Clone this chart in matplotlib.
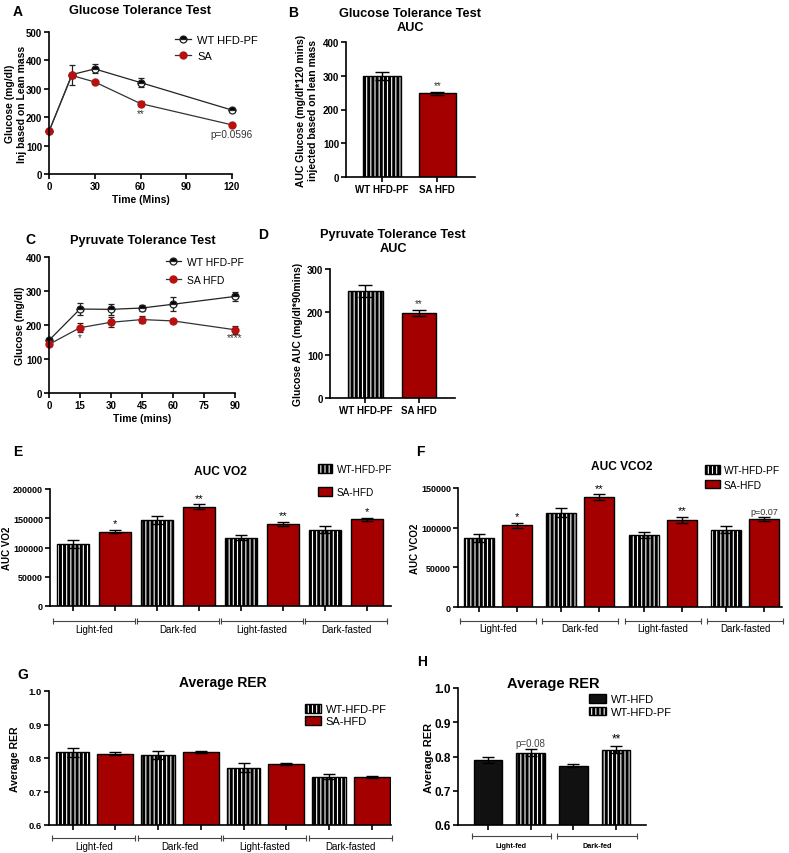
import numpy as np
import matplotlib
matplotlib.use('Agg')
import matplotlib.pyplot as plt
from matplotlib.transforms import blended_transform_factory

# DATA
gtt_time = [0, 15, 30, 60, 120]
gtt_wt = [150, 350, 370, 322, 225]
gtt_wt_err = [5, 35, 16, 15, 7]
gtt_sa = [150, 347, 324, 248, 173]
gtt_sa_err = [5, 10, 7, 8, 4]

gtt_groups = ['WT HFD-PF', 'SA HFD']
gtt_auc = [298, 248]
gtt_auc_err = [12, 5]

ptt_time = [0, 15, 30, 45, 60, 90]
ptt_wt = [155, 247, 246, 250, 261, 284]
ptt_wt_err = [5, 17, 16, 10, 20, 12]
ptt_sa = [143, 192, 208, 216, 212, 186]
ptt_sa_err = [5, 14, 15, 10, 5, 11]

ptt_auc = [249, 198]
ptt_auc_err = [13, 7]

phases = ['Light-fed', 'Dark-fed', 'Light-fasted', 'Dark-fasted']
vo2_wt = [106000, 147000, 117000, 130000]
vo2_wt_err = [6000, 7000, 5000, 6000]
vo2_sa = [127000, 170000, 140000, 148000]
vo2_sa_err = [3000, 4000, 4000, 3000]
vo2_marks = ['*', '**', '**', '*']

vco2_wt = [87000, 119000, 90500, 97500]
vco2_wt_err = [5000, 5500, 3500, 4000]
vco2_sa = [103000, 138500, 110000, 110500]
vco2_sa_err = [3000, 3500, 3500, 2500]
vco2_marks = ['*', '**', '**', 'p=0.07']

rer_wt = [0.817, 0.808, 0.771, 0.744]
rer_wt_err = [0.013, 0.012, 0.013, 0.007]
rer_sa = [0.813, 0.818, 0.782, 0.743]
rer_sa_err = [0.005, 0.004, 0.003, 0.004]

fed_phases = ['Light-fed', 'Dark-fed']
rer_hfd = [0.789, 0.773]
rer_hfd_err = [0.009, 0.005]
rer_pf = [0.811, 0.820]
rer_pf_err = [0.010, 0.010]
rer_pf_marks = ['p=0.08', '**']

# STYLE
W, H = 789, 854
plt.rcParams['font.family'] = ['Liberation Sans', 'DejaVu Sans']
plt.rcParams['hatch.linewidth'] = 2.2
RED = '#A50000'
MRED = '#B81010'
HATCH = '||||'

fig = plt.figure(figsize=(W / 100, H / 100), dpi=100)


def new_ax(x0, y0, x1, y1):
    # pixel box of the reference -> figure fraction
    return fig.add_axes([x0 / W, 1 - y1 / H, (x1 - x0) / W, (y1 - y0) / H])


def prism(ax, fs):
    for s in ['top', 'right']:
        ax.spines[s].set_visible(False)
    for s in ['left', 'bottom']:
        ax.spines[s].set_linewidth(1.2)
    ax.tick_params(direction='out', length=3.5, width=1.2, labelsize=fs, pad=1.5)
    for lbl in ax.get_xticklabels() + ax.get_yticklabels():
        lbl.set_fontweight('bold')


def ylab(ax, text, fs, xfrac):
    ax.set_ylabel(text, fontsize=fs, fontweight='bold')
    ax.yaxis.set_label_coords(xfrac, 0.5)


def striped(bars):
    for p in bars:
        if hasattr(p, 'set_hatch_linewidth'):
            p.set_hatch_linewidth(2.2)
    return bars


def brackets(ax, centers, half, names, y_line, y_text, fs, weight='normal'):
    tr = blended_transform_factory(ax.transData, ax.transAxes)
    for c, n in zip(centers, names):
        ax.plot([c - half, c + half], [y_line, y_line], color='#444', lw=0.8,
                marker='|', ms=5, mew=0.8, transform=tr, clip_on=False)
        ax.text(c, y_text, n, transform=tr, ha='center', va='center',
                fontsize=fs, fontweight=weight)


def mark(ax, x, top, txt, fs, color='black'):
    ax.annotate(txt, (x, top), xytext=(0, 1), textcoords='offset points',
                ha='center', va='bottom', fontsize=fs, color=color)


def ftext(x, y, s, fs, **kw):
    fig.text(x / W, 1 - y / H, s, fontsize=fs, fontweight='bold',
             ha='center', va='center', **kw)


ebar = dict(elinewidth=1, capthick=1, ecolor='black')

# PANEL A
ax = new_ax(49, 33, 232, 175)
ax.errorbar(gtt_time, gtt_wt, yerr=gtt_wt_err, fmt='none', ecolor='#222',
            elinewidth=0.9, capsize=2.5, capthick=0.9, clip_on=False)
ax.errorbar(gtt_time, gtt_sa, yerr=gtt_sa_err, fmt='none', ecolor='#222',
            elinewidth=0.9, capsize=2.5, capthick=0.9, clip_on=False)
ax.plot(gtt_time, gtt_wt, color='#222', lw=0.9, marker='o', ms=5, fillstyle='top',
        mfc='black', markerfacecoloralt='white', mec='#222', mew=0.9,
        label='WT HFD-PF', clip_on=False)
ax.plot(gtt_time, gtt_sa, color='#333', lw=0.9, marker='o', ms=5, mfc=MRED,
        mec=MRED, label='SA', clip_on=False)
ax.set_xlim(0, 120)
ax.set_ylim(0, 500)
ax.set_xticks([0, 30, 60, 90, 120])
ax.set_yticks(np.arange(0, 501, 100))
prism(ax, 7)
ax.set_xlabel('Time (Mins)', fontsize=7.5, fontweight='bold', labelpad=2)
ylab(ax, 'Glucose (mg/dl)\nInj based on Lean mass', 7.5, -0.12)
ax.text(60, 215, '**', ha='center', va='center', fontsize=7, color='#333')
ax.text(120, 141, 'p=0.0596', ha='center', va='center', fontsize=7.2,
        color='#333', clip_on=False)
ax.legend(loc='upper left', bbox_to_anchor=(175 / W, 1 - 36 / H),
          bbox_transform=fig.transFigure, frameon=False, fontsize=8,
          handlelength=1.4, handletextpad=0.6, labelspacing=0.5,
          borderpad=0, borderaxespad=0)
ftext(140, 11, 'Glucose Tolerance Test', 9.2)
ftext(18, 12, 'A', 10)

# PANEL B
ax = new_ax(346, 43, 475, 178)
x = np.arange(len(gtt_groups))
striped(ax.bar(x[0], gtt_auc[0], 0.68, yerr=gtt_auc_err[0], color='white',
               edgecolor='black', hatch=HATCH, lw=1, capsize=5, error_kw=ebar))
ax.bar(x[1], gtt_auc[1], 0.68, yerr=gtt_auc_err[1], color=RED,
       edgecolor='black', lw=1, capsize=5, error_kw=ebar)
mark(ax, x[1], gtt_auc[1] + gtt_auc_err[1], '**', 7, '#333')
ax.set_xlim(-0.65, 1.68)
ax.set_ylim(0, 400)
ax.set_xticks(x, labels=gtt_groups)
ax.set_yticks(np.arange(0, 401, 100))
prism(ax, 7)
ylab(ax, 'AUC Glucose (mg/dl*120 mins)\ninjected based on lean mass', 7.5, -0.217)
ftext(410, 21, 'Glucose Tolerance Test\nAUC', 9.2, linespacing=1.25)
ftext(293, 13, 'B', 10)

# PANEL C
ax = new_ax(49, 258, 235, 394)
ax.errorbar(ptt_time, ptt_wt, yerr=ptt_wt_err, fmt='none', ecolor='#222',
            elinewidth=0.9, capsize=2.5, capthick=0.9, clip_on=False)
ax.errorbar(ptt_time, ptt_sa, yerr=ptt_sa_err, fmt='none', ecolor='#222',
            elinewidth=0.9, capsize=2.5, capthick=0.9, clip_on=False)
ax.plot(ptt_time, ptt_wt, color='#222', lw=0.9, marker='o', ms=5, fillstyle='top',
        mfc='black', markerfacecoloralt='white', mec='#222', mew=0.9,
        label='WT HFD-PF', clip_on=False)
ax.plot(ptt_time, ptt_sa, color='#333', lw=0.9, marker='o', ms=5, mfc=MRED,
        mec=MRED, label='SA HFD', clip_on=False)
ax.set_xlim(0, 90)
ax.set_ylim(0, 400)
ax.set_xticks(np.arange(0, 91, 15))
ax.set_yticks(np.arange(0, 401, 100))
prism(ax, 7)
ax.set_xlabel('Time (mins)', fontsize=7.5, fontweight='bold', labelpad=2)
ylab(ax, 'Glucose (mg/dl)', 7.5, -0.13)
ax.text(15, 165, '*', ha='center', va='center', fontsize=7, color='#333')
ax.text(90, 165, '****', ha='center', va='center', fontsize=7, color='#333',
        clip_on=False)
ax.legend(loc='upper left', bbox_to_anchor=(166 / W, 1 - 258 / H),
          bbox_transform=fig.transFigure, frameon=False, fontsize=7.5,
          handlelength=1.4, handletextpad=0.6, labelspacing=0.75,
          borderpad=0, borderaxespad=0)
ftext(143, 241, 'Pyruvate Tolerance Test', 9.2)
ftext(30, 240, 'C', 10)

# PANEL D
ax = new_ax(330, 270, 455, 399)
striped(ax.bar(x[0], ptt_auc[0], 0.65, yerr=ptt_auc_err[0], color='white',
               edgecolor='black', hatch=HATCH, lw=1, capsize=5, error_kw=ebar))
ax.bar(x[1], ptt_auc[1], 0.65, yerr=ptt_auc_err[1], color=RED,
       edgecolor='black', lw=1, capsize=5, error_kw=ebar)
mark(ax, x[1], ptt_auc[1] + ptt_auc_err[1], '**', 7, '#333')
ax.set_xlim(-0.66, 1.67)
ax.set_ylim(0, 300)
ax.set_xticks(x, labels=gtt_groups)
ax.set_yticks(np.arange(0, 301, 100))
prism(ax, 7)
ylab(ax, 'Glucose AUC (mg/dl*90mins)', 7.5, -0.216)
ftext(393, 242, 'Pyruvate Tolerance Test\nAUC', 9.2, linespacing=1.2)
ftext(263, 235, 'D', 10)

# PANEL E
ax = new_ax(50, 490, 391, 607)
g = np.arange(len(phases))
xw, xs = 2 * g, 2 * g + 1
striped(ax.bar(xw, vo2_wt, 0.78, yerr=vo2_wt_err, color='white', edgecolor='black',
               hatch=HATCH, lw=1, capsize=4.5, error_kw=ebar, label='WT-HFD-PF'))
ax.bar(xs, vo2_sa, 0.78, yerr=vo2_sa_err, color=RED, edgecolor='black',
       lw=1, capsize=4.5, error_kw=ebar, label='SA-HFD')
for xi, v, e, m in zip(xs, vo2_sa, vo2_sa_err, vo2_marks):
    mark(ax, xi, v + e, m, 8)
ax.set_xlim(-0.55, 7.57)
ax.set_ylim(0, 200000)
ax.set_xticks(np.concatenate([xw, xs]), labels=[])
ax.set_yticks(np.arange(0, 200001, 50000))
prism(ax, 6.5)
ylab(ax, 'AUC VO2', 7, -0.11)
brackets(ax, 2 * g + 0.5, 0.97, phases, -0.128, -0.197, 7)
ax.legend(loc='upper left', bbox_to_anchor=(318 / W, 1 - 465 / H),
          bbox_transform=fig.transFigure, frameon=False, fontsize=7.2,
          handlelength=1.4, handleheight=0.9, handletextpad=0.45,
          labelspacing=1.3, borderpad=0, borderaxespad=0)
ftext(220, 472, 'AUC VO2', 8.6)
ftext(18, 452, 'E', 10)

# PANEL F
ax = new_ax(458, 489, 782, 608)
step = 2.17
xw, xs = step * g, step * g + 1
striped(ax.bar(xw, vco2_wt, 0.79, yerr=vco2_wt_err, color='white', edgecolor='black',
               hatch=HATCH, lw=1, capsize=4.5, error_kw=ebar, label='WT-HFD-PF'))
ax.bar(xs, vco2_sa, 0.79, yerr=vco2_sa_err, color=RED, edgecolor='black',
       lw=1, capsize=4.5, error_kw=ebar, label='SA-HFD')
for xi, v, e, m in zip(xs, vco2_sa, vco2_sa_err, vco2_marks):
    if m.startswith('p'):
        mark(ax, xi, v + e, m, 6.5, '#333')
    else:
        mark(ax, xi, v + e, m, 8)
ax.set_xlim(-0.55, step * 3 + 1.47)
ax.set_ylim(0, 150000)
ax.set_xticks(np.concatenate([xw, xs]), labels=[])
ax.set_yticks(np.arange(0, 150001, 50000))
prism(ax, 6.5)
ylab(ax, 'AUC VCO2', 7, -0.118)
brackets(ax, step * g + 0.5, 1.0, phases, -0.118, -0.176, 7)
ax.legend(loc='upper left', bbox_to_anchor=(705 / W, 1 - 466 / H),
          bbox_transform=fig.transFigure, frameon=False, fontsize=7.4,
          handlelength=1.45, handleheight=0.9, handletextpad=0.35,
          labelspacing=0.45, borderpad=0, borderaxespad=0)
ftext(622, 467, 'AUC VCO2', 8.6)
ftext(420, 452, 'F', 10)

# PANEL G
ax = new_ax(49, 692, 391, 826)
xw, xs = 2 * g, 2 * g + 1
striped(ax.bar(xw, rer_wt, 0.78, yerr=rer_wt_err, color='white', edgecolor='black',
               hatch=HATCH, lw=1, capsize=4.5, error_kw=ebar, label='WT-HFD-PF'))
ax.bar(xs, rer_sa, 0.84, yerr=rer_sa_err, color=RED, edgecolor='black',
       lw=1, capsize=4.5, error_kw=ebar, label='SA-HFD')
ax.set_xlim(-0.55, 7.45)
ax.set_ylim(0.6, 1.0)
ax.set_xticks(np.concatenate([xw, xs]), labels=[])
ax.set_yticks(np.arange(0.6, 1.01, 0.1))
ax.set_yticklabels(['0.6', '0.7', '0.8', '0.9', '1.0'])
prism(ax, 6.8)
ylab(ax, 'Average RER', 7.5, -0.085)
brackets(ax, 2 * g + 0.5, 0.97, phases, -0.1, -0.16, 7)
ax.legend(loc='upper left', bbox_to_anchor=(305 / W, 1 - 705 / H),
          bbox_transform=fig.transFigure, frameon=False, fontsize=8,
          handlelength=1.4, handleheight=0.8, handletextpad=0.45,
          labelspacing=0.2, borderpad=0, borderaxespad=0)
ftext(223, 683, 'Average RER', 10)
ftext(23, 675, 'G', 10)

# PANEL H
ax = new_ax(458, 689, 646, 826)
g2 = np.arange(len(fed_phases))
xh, xp = 2 * g2, 2 * g2 + 1
ax.bar(xh, rer_hfd, 0.67, yerr=rer_hfd_err, color='#111', edgecolor='black',
       lw=1, capsize=4.5, error_kw=ebar, label='WT-HFD')
striped(ax.bar(xp, rer_pf, 0.67, yerr=rer_pf_err, color='white', edgecolor='black',
               hatch=HATCH, lw=1, capsize=4.5, error_kw=ebar, label='WT-HFD-PF'))
for xi, v, e, m in zip(xp, rer_pf, rer_pf_err, rer_pf_marks):
    if m.startswith('p'):
        mark(ax, xi, v + e, m, 7, '#444')
    else:
        mark(ax, xi, v + e, m, 8.5)
ax.set_xlim(-0.7, 3.7)
ax.set_ylim(0.6, 1.0)
ax.set_xticks(np.concatenate([xh, xp]), labels=[])
ax.set_yticks(np.arange(0.6, 1.01, 0.1))
ax.set_yticklabels(['0.6', '0.7', '0.8', '0.9', '1.0'])
prism(ax, 8.5)
ylab(ax, 'Average RER', 8, -0.128)
brackets(ax, 2 * g2 + 0.55, 0.93, fed_phases, -0.08, -0.15, 5.2, 'bold')
ax.legend(loc='upper left', bbox_to_anchor=(589 / W, 1 - 695 / H),
          bbox_transform=fig.transFigure, frameon=False, fontsize=8,
          handlelength=1.5, handleheight=0.8, handletextpad=0.5,
          labelspacing=0.25, borderpad=0, borderaxespad=0)
ftext(553, 684, 'Average RER', 10.5)
ftext(422, 662, 'H', 10)

fig.savefig('out.png', dpi=100)
